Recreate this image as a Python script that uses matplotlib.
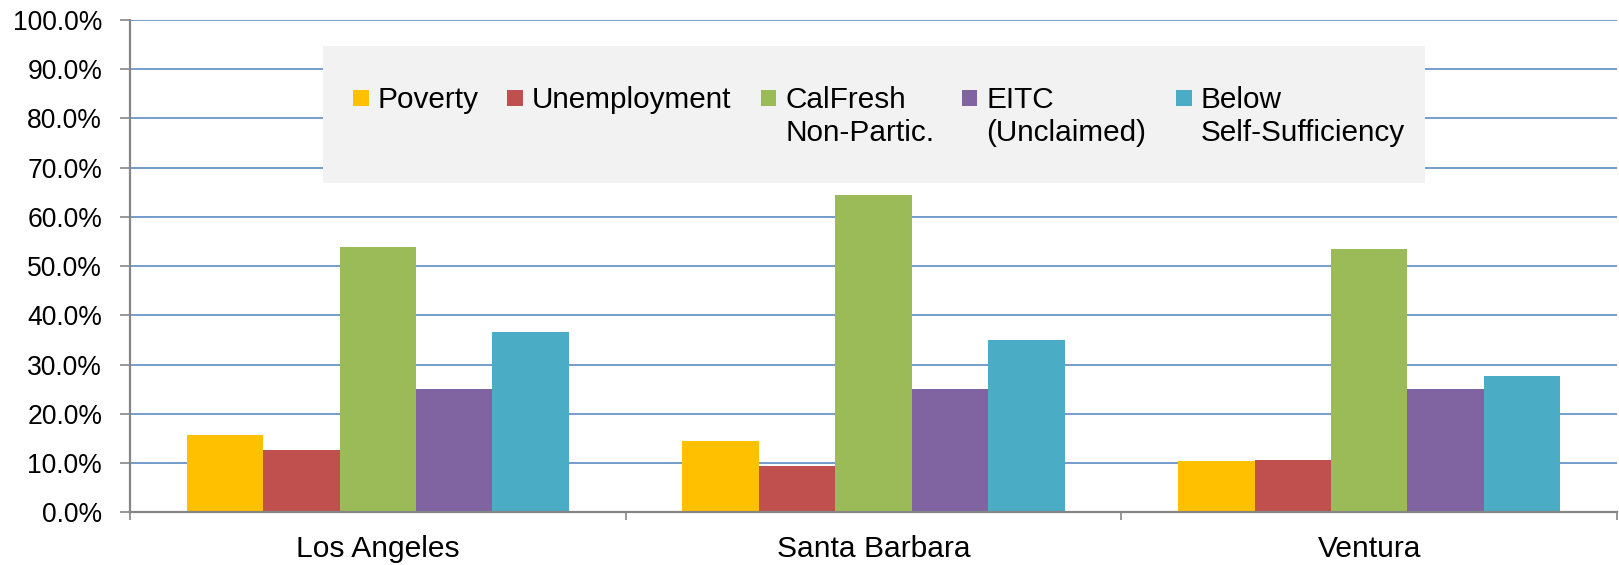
import matplotlib
matplotlib.use("Agg")
import matplotlib.pyplot as plt
import numpy as np
from matplotlib.patches import Rectangle
from matplotlib.ticker import PercentFormatter

plt.rcParams["font.family"] = ["Liberation Sans", "DejaVu Sans"]

counties = ["Los Angeles", "Santa Barbara", "Ventura"]
series_labels = ["Poverty", "Unemployment", "CalFresh\nNon-Partic.",
                 "EITC\n(Unclaimed)", "Below\nSelf-Sufficiency"]
poverty = [15.7, 14.4, 10.4]
unemployment = [12.7, 9.5, 10.6]
calfresh = [54.0, 64.4, 53.4]
eitc = [25.0, 25.0, 25.0]
below_ss = [36.6, 35.0, 27.7]
colors = ["#FFC000", "#C0504D", "#9BBB59", "#8064A2", "#4BACC6"]

W, H = 1619, 565
GRID = "#4F81BD"
AXIS = "#868686"


def fx(px):
    return px / W


def fy(py):
    return 1 - py / H


fig = plt.figure(figsize=(W / 100, H / 100), dpi=100)
ax = fig.add_axes([fx(130), fy(512.4), (1617 - 130) / W, (512.4 - 20) / H])

values = [poverty, unemployment, calfresh, eitc, below_ss]
x = np.arange(len(counties))
bw = 0.1542
for i, (vals, c) in enumerate(zip(values, colors)):
    ax.bar(x + (i - 2) * bw, vals, width=bw, color=c, zorder=3)

ax.set_xlim(-0.5, 2.5)
ax.set_ylim(0, 100)
ax.set_yticks(np.arange(0, 101, 10))
ax.yaxis.set_major_formatter(PercentFormatter(xmax=100, decimals=1))
ax.yaxis.grid(True, color=GRID, lw=1.1, zorder=0)
ax.set_axisbelow(True)

ax.set_xticks(x)
ax.set_xticklabels(counties)
ax.set_xticks([-0.5, 0.5, 1.5, 2.5], minor=True)
ax.tick_params(axis="x", which="major", length=0, pad=16, labelsize=21.6)
ax.tick_params(axis="x", which="minor", length=6, width=1.2, color=AXIS, direction="out")
ax.tick_params(axis="y", length=7, width=1.2, color=AXIS, pad=13, labelsize=19.1)

for s in ("top", "right"):
    ax.spines[s].set_visible(False)
for s in ("left", "bottom"):
    ax.spines[s].set_color(AXIS)
    ax.spines[s].set_linewidth(1.6)
    ax.spines[s].set_zorder(4)

# legend box drawn like the Excel one: grey panel, top-aligned entries
fig.patches.append(Rectangle((fx(323), fy(183)), (1425 - 323) / W, (183 - 46.5) / H,
                             transform=fig.transFigure, facecolor="#F2F2F2",
                             edgecolor="none", zorder=5))
sq = 15.7
line_gap = 33.3
entry_x = [353, 507.3, 760.7, 961.7, 1176]
for lx, lab, c in zip(entry_x, series_labels, colors):
    fig.patches.append(Rectangle((fx(lx), fy(105.7)), sq / W, sq / H,
                                 transform=fig.transFigure, facecolor=c,
                                 edgecolor="none", zorder=6))
    for k, line in enumerate(lab.split("\n")):
        fig.text(fx(lx + 24.3), fy(107.7 + k * line_gap), line, fontsize=21.4,
                 va="baseline", ha="left", zorder=7)

fig.savefig("out.png", dpi=100)
